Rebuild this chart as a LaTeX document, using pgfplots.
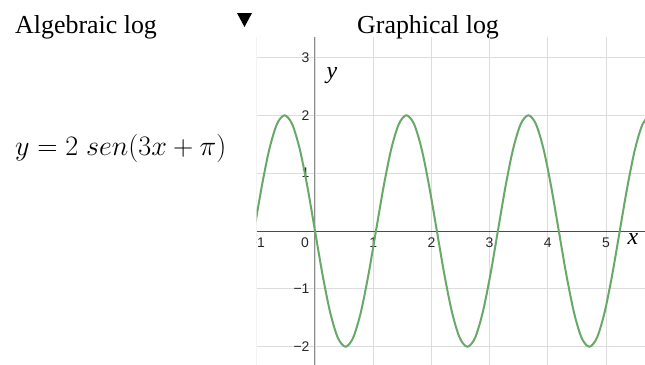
\documentclass[border=0pt]{standalone}
\usepackage{fontspec}
\setmainfont{Liberation Serif}
\setsansfont{Liberation Sans}
\usepackage{graphicx}
\usepackage{pgfplots}
\pgfplotsset{compat=1.18}
\definecolor{curvegreen}{RGB}{104,168,104}
\definecolor{gridgray}{RGB}{220,220,220}

% y = 2 sen(3x + pi)
\pgfplotstableread{
x y
-1.047 0
-0.916 0.765
-0.785 1.414
-0.654 1.848
-0.524 2
-0.393 1.848
-0.262 1.414
-0.131 0.765
0 0
0.131 -0.765
0.262 -1.414
0.393 -1.848
0.524 -2
0.654 -1.848
0.785 -1.414
0.916 -0.765
1.047 0
1.178 0.765
1.309 1.414
1.440 1.848
1.571 2
1.702 1.848
1.833 1.414
1.963 0.765
2.094 0
2.225 -0.765
2.356 -1.414
2.487 -1.848
2.618 -2
2.749 -1.848
2.880 -1.414
3.011 -0.765
3.142 0
3.272 0.765
3.403 1.414
3.534 1.848
3.665 2
3.796 1.848
3.927 1.414
4.058 0.765
4.189 0
4.320 -0.765
4.451 -1.414
4.581 -1.848
4.712 -2
4.843 -1.848
4.974 -1.414
5.105 -0.765
5.236 0
5.367 0.765
5.498 1.414
5.629 1.848
5.760 2
}\sinedata

\begin{document}
\begin{tikzpicture}
\useasboundingbox (0,0) rectangle (645bp,-365bp);
\node[anchor=base west, inner sep=0, font=\fontsize{26}{30}\selectfont] at (15bp,-33bp) {Algebraic log};
\node[anchor=base west, inner sep=0, font=\fontsize{26}{30}\selectfont] at (357bp,-33bp) {Graphical log};
\fill (237bp,-13bp) -- (252bp,-13bp) -- (244.5bp,-27bp) -- cycle;
\node[anchor=base west, inner sep=0, font=\fontsize{24.88}{30}\selectfont] at (15bp,-155bp) {\scalebox{1.135}{$y = 2\;sen(3x+\pi)$}};
\begin{scope}
\clip (256.7bp,0) rectangle (645bp,-365bp);
\begin{axis}[
    at={(256.7bp,-365bp)}, anchor=south west,
    scale only axis,
    width=388.3bp, height=328bp,
    xmin=-1.002, xmax=5.67,
    ymin=-2.316, ymax=3.353,
    axis lines=middle,
    x axis line style={-, draw=black!70, line width=0.8bp},
    y axis line style={-, draw=black!45, line width=1.6bp},
    xtick={-1,1,2,3,4,5},
    xticklabels={−1,1,2,3,4,5},
    extra x ticks={0},
    extra x tick labels={0},
    extra x tick style={xticklabel style={xshift=-10bp}},
    ytick={-2,-1,1,2,3},
    yticklabels={−2,−1,1,2,3},
    hide obscured x ticks=false,
    hide obscured y ticks=false,
    major tick length=0,
    grid=major,
    major grid style={draw=gridgray, line width=1bp},
    xticklabel style={anchor=north, yshift=-3.5bp, font=\sffamily\fontsize{14}{16}\selectfont, text=black!85},
    yticklabel style={anchor=east, xshift=-2bp, font=\sffamily\fontsize{14}{16}\selectfont, text=black!85},
    clip=true,
]
\addplot[curvegreen, line width=2bp, smooth] table {\sinedata};
\end{axis}
\end{scope}
\node[font=\fontsize{24}{28}\selectfont\itshape] at (332bp,-76bp) {y};
\node[font=\fontsize{24}{28}\selectfont\itshape] at (633bp,-239bp) {x};
\end{tikzpicture}
\end{document}
